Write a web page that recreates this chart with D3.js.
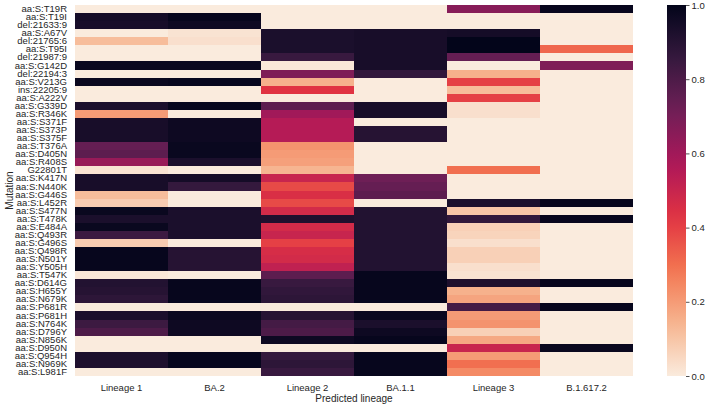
<!DOCTYPE html>
<html>
<head>
<meta charset="utf-8">
<script src="https://cdn.jsdelivr.net/npm/d3@7"></script>
<style>
  html, body { margin: 0; padding: 0; background: #fff; }
  svg { display: block; }
  text { font-family: "Liberation Sans", Arial, sans-serif; fill: #262626; }
</style>
</head>
<body>
<svg id="chart" width="708" height="408"></svg>
<script>
const mutations = ["aa:S:T19R","aa:S:T19I","del:21633:9","aa:S:A67V","del:21765:6","aa:S:T95I","del:21987:9","aa:S:G142D","del:22194:3","aa:S:V213G","ins:22205:9","aa:S:A222V","aa:S:G339D","aa:S:R346K","aa:S:S371F","aa:S:S373P","aa:S:S375F","aa:S:T376A","aa:S:D405N","aa:S:R408S","G22801T","aa:S:K417N","aa:S:N440K","aa:S:G446S","aa:S:L452R","aa:S:S477N","aa:S:T478K","aa:S:E484A","aa:S:Q493R","aa:S:G496S","aa:S:Q498R","aa:S:N501Y","aa:S:Y505H","aa:S:T547K","aa:S:D614G","aa:S:H655Y","aa:S:N679K","aa:S:P681R","aa:S:P681H","aa:S:N764K","aa:S:D796Y","aa:S:N856K","aa:S:D950N","aa:S:Q954H","aa:S:N969K","aa:S:L981F"];

const lineages = ["Lineage 1","BA.2","Lineage 2","BA.1.1","Lineage 3","B.1.617.2"];

// values per lineage, one per mutation (top to bottom)
const lineage1 = [0,0.95,0.94,0,0.12,0,0,0.98,0,0.98,0,0,0.93,0.2,0.94,0.94,0.94,0.74,0.76,0.62,0.02,0.94,0.94,0.12,0.08,0.98,0.93,0.98,0.84,0.08,0.99,0.99,0.99,0.01,0.91,0.9,0.88,0,0.93,0.84,0.8,0,0,0.93,0.92,0];
const ba2 = [0,0.99,0.97,0.02,0.03,0,0,0.98,0,0.99,0,0,0.99,0,0.97,0.97,0.97,0.98,0.98,0.93,0,0.95,0.86,0,0,0.93,0.93,0.93,0.93,0,0.9,0.9,0.9,0,0.99,0.99,0.99,0,0.98,0.97,0.97,0,0,0.99,0.99,0];
const lineage2 = [0,0,0,0.93,0.93,0.93,0.85,0.01,0.68,0.15,0.43,0,0.76,0.6,0.55,0.55,0.55,0.22,0.2,0.19,0.14,0.5,0.38,0.45,0.38,0.47,0.92,0.47,0.5,0.4,0.46,0.47,0.52,0.76,0.85,0.87,0.88,0,0.9,0.82,0.8,0.97,0,0.86,0.88,0.85];
const ba11 = [0,0,0,0.94,0.94,0.94,0.94,0.94,0.87,0,0,0,0.94,0.94,0,0.9,0.9,0,0,0,0,0.72,0.74,0.76,0,0.91,0.91,0.91,0.91,0.91,0.91,0.91,0.91,0.99,0.99,0.99,0.99,0,0.98,0.93,0.97,0.99,0,0.99,0.99,0.99];
const lineage3 = [0.66,0,0,0.95,1.0,1.0,0.74,0,0.15,0.4,0.12,0.4,0.03,0.03,0,0,0,0,0,0,0.3,0,0,0,0.93,0.1,0.87,0.07,0.06,0.03,0.07,0.07,0.03,0.02,0.92,0.15,0.18,0.82,0.2,0.22,0.07,0.17,0.5,0.2,0.3,0.24];
const b16172 = [0.99,0,0,0,0,0.32,0,0.68,0,0,0,0,0,0,0,0,0,0,0,0,0,0,0,0,0.99,0,0.99,0,0,0,0,0,0,0,0.99,0,0,0.99,0,0,0,0,0.98,0,0,0];

const colorTicks = [0.0, 0.2, 0.4, 0.6, 0.8, 1.0];

const seriesList = [lineage1, ba2, lineage2, ba11, lineage3, b16172];

// rocket_r colormap approximation
const rocketStops = ["#faebdd","#f6b48f","#f37651","#e13342","#ad1759","#701f57","#35193e","#03051a"];
const interp = d3.piecewise(d3.interpolateRgb, rocketStops);
const color = d3.scaleSequential(interp).domain([0, 1]);

const svg = d3.select("#chart");
const mLeft = 75, mRight = 633, mTop = 5, mBottom = 376;

const x = d3.scaleBand().domain(lineages).range([mLeft, mRight]).padding(0);
const y = d3.scaleBand().domain(mutations).range([mTop, mBottom]).padding(0);

const cells = [];
lineages.forEach((l, j) => {
  mutations.forEach((m, i) => cells.push({ l, m, v: seriesList[j][i] }));
});

svg.append("g").selectAll("rect").data(cells).join("rect")
  .attr("x", d => x(d.l))
  .attr("y", d => y(d.m))
  .attr("width", x.bandwidth() + 0.4)
  .attr("height", y.bandwidth() + 0.4)
  .attr("fill", d => color(d.v))
  .attr("shape-rendering", "crispEdges");

// y axis
const yAxis = svg.append("g")
  .attr("transform", `translate(${mLeft},0)`)
  .call(d3.axisLeft(y).tickSize(0).tickPadding(8));
yAxis.select(".domain").remove();
yAxis.selectAll("text").style("font-size", "9.5px").attr("fill", "#262626");

// x axis
const xAxis = svg.append("g")
  .attr("transform", `translate(0,${mBottom})`)
  .call(d3.axisBottom(x).tickSize(0).tickPadding(8));
xAxis.select(".domain").remove();
xAxis.selectAll("text").style("font-size", "9.5px").attr("fill", "#262626");

// axis titles
svg.append("text")
  .attr("x", (mLeft + mRight) / 2)
  .attr("y", 402)
  .attr("text-anchor", "middle")
  .style("font-size", "10px")
  .text("Predicted lineage");

svg.append("text")
  .attr("transform", `translate(13,${(mTop + mBottom) / 2}) rotate(-90)`)
  .attr("text-anchor", "middle")
  .style("font-size", "10px")
  .text("Mutation");

// colorbar
const cbX = 667, cbW = 19;
const cbScale = d3.scaleLinear().domain([0, 1]).range([mBottom, mTop]);
const defs = svg.append("defs");
const grad = defs.append("linearGradient").attr("id", "cbgrad")
  .attr("x1", "0").attr("y1", "1").attr("x2", "0").attr("y2", "0");
d3.range(0, 1.0001, 0.05).forEach(t => {
  grad.append("stop").attr("offset", t).attr("stop-color", color(t));
});
svg.append("rect")
  .attr("x", cbX).attr("y", mTop)
  .attr("width", cbW).attr("height", mBottom - mTop)
  .attr("fill", "url(#cbgrad)");

const cbAxis = svg.append("g")
  .attr("transform", `translate(${cbX + cbW},0)`)
  .call(d3.axisRight(cbScale).tickValues(colorTicks).tickFormat(d3.format(".1f")).tickSize(3.5).tickPadding(2));
cbAxis.select(".domain").remove();
cbAxis.selectAll("line").attr("stroke", "#262626").attr("stroke-width", 0.8);
cbAxis.selectAll("text").style("font-size", "9.5px").attr("fill", "#262626");
</script>
</body>
</html>
